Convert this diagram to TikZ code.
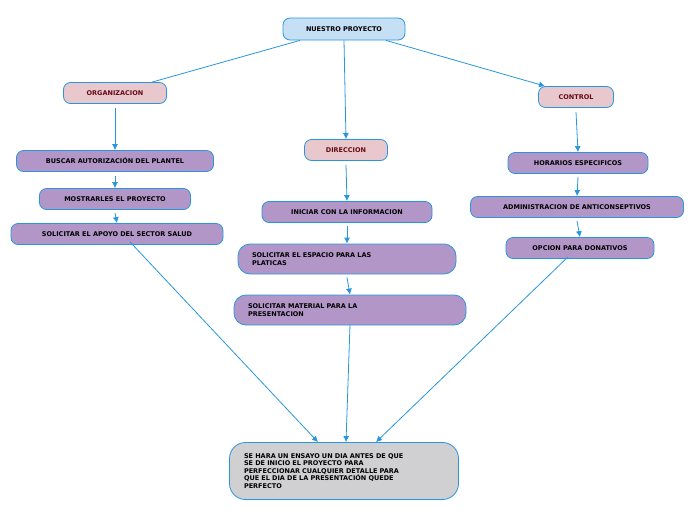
\documentclass[tikz,border=0pt]{standalone}
\usepackage{fontspec}
\setmainfont{DejaVu Sans}
\usetikzlibrary{positioning,arrows.meta}
\definecolor{linkblue}{RGB}{40,150,220}
\definecolor{topblue}{RGB}{197,224,244}
\definecolor{pinkbox}{RGB}{232,200,204}
\definecolor{purplebox}{RGB}{178,150,200}
\definecolor{graybox}{RGB}{208,208,210}
\definecolor{darkred}{RGB}{100,10,20}
\tikzset{box/.style={rounded corners=7pt,draw=linkblue,thick,inner sep=2pt,
            font=\fontsize{6.5}{7.5}\selectfont\bfseries},
         top node/.style={box,fill=topblue,minimum height=22pt},
         head node/.style={box,fill=pinkbox,text=darkred,minimum height=21pt},
         step node/.style={box,fill=purplebox,minimum height=21pt},
         wide node/.style={box,fill=purplebox,minimum height=30pt,rounded corners=12pt,align=left},
            link/.style={draw=linkblue,thick,-{Latex[length=6pt,width=6pt]}}
            }
\begin{document}
\begin{tikzpicture}[x=1pt,y=-1pt]
    \useasboundingbox (0,0) rectangle (696,520);
    \node[top node,minimum width=122pt] (proy) at (344,29) {NUESTRO PROYECTO};
    \node[head node,minimum width=103pt] (org) at (115,93) {ORGANIZACION};
    \node[head node,minimum width=83pt] (dir) at (346,150) {DIRECCION};
    \node[head node,minimum width=75pt] (ctrl) at (576,97) {CONTROL};

    \node[step node,minimum width=197pt] (buscar) at (115,161) {BUSCAR AUTORIZACIÓN DEL PLANTEL};
    \node[step node,minimum width=151pt] (mostrar) at (115,199) {MOSTRARLES EL PROYECTO};
    \node[step node,minimum width=212pt] (apoyo) at (117,234) {SOLICITAR EL APOYO DEL SECTOR SALUD};

    \node[step node,minimum width=170pt] (iniciar) at (347,212) {INICIAR CON LA INFORMACION};
    \node[wide node,minimum width=218pt,text width=190pt] (espacio) at (347,259) {SOLICITAR EL ESPACIO PARA LAS\\PLATICAS};
    \node[wide node,minimum width=232pt,text width=204pt] (material) at (350,310) {SOLICITAR MATERIAL PARA LA\\PRESENTACION};

    \node[step node,minimum width=140pt] (horas) at (578,163) {HORARIOS ESPECIFICOS};
    \node[step node,minimum width=213pt] (admin) at (577,207) {ADMINISTRACION DE ANTICONSEPTIVOS};
    \node[step node,minimum width=148pt] (opcion) at (580,248) {OPCION PARA DONATIVOS};

    \node[box,fill=graybox,rounded corners=16pt,minimum width=229pt,minimum height=57pt,
          text width=200pt,align=left] (ensayo) at (344,471)
          {SE HARA UN ENSAYO UN DIA ANTES DE QUE\\SE DE INICIO EL PROYECTO PARA\\PERFECCIONAR CUALQUIER DETALLE PARA\\QUE EL DIA DE LA PRESENTACIÓN QUEDE\\PERFECTO};

    \draw[draw=linkblue,thick] ([xshift=-44pt]proy.south) -- ([xshift=37pt]org.north);
    \path[link] (proy.south) -- (dir.north);
    \path[link] ([xshift=42pt]proy.south) -- ([xshift=-31pt]ctrl.north);

    \path[link] ([yshift=-4pt]org.south) -- (buscar.north);
    \path[link] ([yshift=-4pt]buscar.south) -- (mostrar.north);
    \path[link] ([yshift=-3pt]mostrar.south) -- (apoyo.north);
    \path[link] ([yshift=-4pt]dir.south) -- (iniciar.north);
    \path[link] ([yshift=-3pt]iniciar.south) -- (espacio.north);
    \path[link] ([yshift=-3pt]espacio.south) -- (material.north);
    \path[link] ([yshift=-4pt]ctrl.south) -- (horas.north);
    \path[link] ([yshift=-3pt]horas.south) -- (admin.north);
    \path[link] ([yshift=-3pt]admin.south) -- (opcion.north);

    \path[link] ([xshift=13pt,yshift=3pt]apoyo.south) -- ([xshift=-26pt]ensayo.north);
    \path[link] ([yshift=1pt]material.south) -- ([xshift=2pt]ensayo.north);
    \path[link] ([xshift=-12pt,yshift=2pt]opcion.south) -- ([xshift=32pt]ensayo.north);
\end{tikzpicture}
\end{document}
